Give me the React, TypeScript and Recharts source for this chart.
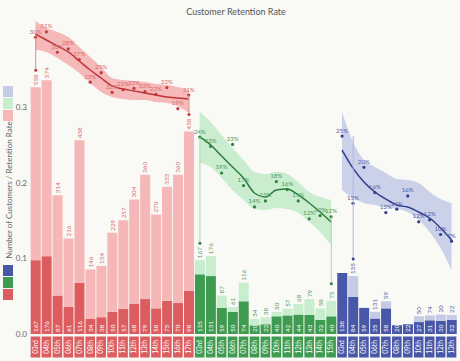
import React from 'react';
import { ComposedChart, Bar, Line, Area, XAxis, YAxis, LabelList, Cell } from 'recharts';

const dayLabels = ['03rd', '04th', '05th', '06th', '07th', '08th', '09th', '10th', '11th', '12th', '13th', '14th', '15th', '16th', '17th'];

// first cohort (red)
const redTotal = [558, 574, 314, 216, 438, 146, 154, 229, 257, 304, 360, 270, 333, 360, 458];
const redRetained = [167, 176, 87, 61, 116, 34, 38, 50, 57, 68, 79, 58, 75, 70, 98];
const redRate = [0.299, 0.307, 0.277, 0.282, 0.266, 0.233, 0.247, 0.218, 0.222, 0.224, 0.219, 0.215, 0.225, 0.194, 0.214];
const redTrend = [0.3038, 0.295, 0.2862, 0.2774, 0.2641, 0.2509, 0.2391, 0.2274, 0.2229, 0.22, 0.2171, 0.2141, 0.2112, 0.2097, 0.2082];
const redBandHi = [0.3229, 0.3126, 0.3068, 0.2994, 0.2847, 0.27, 0.2553, 0.2391, 0.2362, 0.2347, 0.2332, 0.2303, 0.2288, 0.2259, 0.2215];
const redBandLo = [0.2803, 0.2774, 0.2685, 0.2582, 0.2465, 0.2318, 0.2185, 0.2112, 0.2082, 0.2068, 0.2068, 0.2038, 0.2024, 0.1979, 0.1876];

// second cohort (green)
const greenTotal = [167, 176, 87, 61, 116, 34, 38, 50, 57, 68, 79, 58, 75];
const greenRetained = [135, 131, 59, 50, 74, 20, 22, 40, 42, 44, 43, 32, 40];
const greenRate = [0.242, 0.228, 0.188, 0.231, 0.169, 0.137, 0.146, 0.175, 0.163, 0.146, 0.119, 0.124, 0.122];
const greenTrend = [0.2421, 0.2301, 0.2135, 0.197, 0.1805, 0.1579, 0.1519, 0.1624, 0.1639, 0.1549, 0.1429, 0.1293, 0.1143];
const greenBandHi = [0.2797, 0.2647, 0.2451, 0.2256, 0.2075, 0.1895, 0.1865, 0.1895, 0.1865, 0.1744, 0.1594, 0.1519, 0.1474];
const greenBandLo = [0.203, 0.197, 0.1805, 0.1624, 0.1474, 0.1338, 0.1323, 0.1353, 0.1338, 0.1278, 0.1143, 0.0992, 0.0797];

// third cohort (blue)
const blueTotal = [135, 131, 59, 50, 74, 20, 22, 40, 42, 44, 43];
const blueRetained = [138, 84, 59, 35, 58, 20, 22, 27, 31, 30, 32];
const blueRate = [0.247, 0.146, 0.2, 0.162, 0.132, 0.137, 0.157, 0.118, 0.121, 0.099, 0.089];
const blueTrend = [0.226, 0.1989, 0.1779, 0.1629, 0.1523, 0.1433, 0.1403, 0.1328, 0.1238, 0.1087, 0.0907];
const blueBandHi = [0.2832, 0.238, 0.211, 0.2005, 0.1914, 0.1824, 0.1809, 0.1764, 0.1629, 0.1523, 0.1463];
const blueBandLo = [0.1659, 0.1538, 0.1463, 0.1433, 0.1403, 0.1373, 0.1328, 0.1208, 0.1027, 0.0786, 0.0456];

const leftTicks = [0, 0.1, 0.2, 0.3];

const PALETTE = [
  { dark: '#dc5d5f', light: '#f5b7b7', band: '#f1a3a3', line: '#bf3438', text: '#dc6a6a', link: '#e58a8a', point: '#c2393c' },
  { dark: '#3e9b50', light: '#c8eecd', band: '#b9e8c1', line: '#2c7d3c', text: '#4f9a5c', link: '#a6dcaf', point: '#2f7f3e' },
  { dark: '#4957a8', light: '#c5cae5', band: '#bcc3e6', line: '#2e3c8e', text: '#5460a8', link: '#b0b8df', point: '#333f8e' },
];

const W = 460;
const H = 361;
const MARGIN = { top: 20, right: 3, bottom: 0, left: 0 };
const X_AXIS_H = 27;
const PLOT_TOP = MARGIN.top;
const PLOT_H = H - MARGIN.top - MARGIN.bottom - X_AXIS_H;
const COUNT_MAX = 710;
const LEFT_MAX = 0.4159;
const RATE_DOMAINS: [number, number][] = [
  [-0.1374, 0.3244],
  [-0.0541, 0.418],
  [-0.0506, 0.4215],
];

const cohorts = [
  { total: redTotal, retained: redRetained, rate: redRate, trend: redTrend, lo: redBandLo, hi: redBandHi },
  { total: greenTotal, retained: greenRetained, rate: greenRate, trend: greenTrend, lo: greenBandLo, hi: greenBandHi },
  { total: blueTotal, retained: blueRetained, rate: blueRate, trend: blueTrend, lo: blueBandLo, hi: blueBandHi },
];

const rows = cohorts.flatMap((co, c) =>
  co.total.map((t, i) => {
    const r: any = {
      key: `${c}-${dayLabels[i]}`,
      day: dayLabels[i],
      c,
      i,
      last: i === co.total.length - 1,
      total: t,
      retained: co.retained[i],
      rest: Math.max(t - co.retained[i], 0),
    };
    r[`rate${c}`] = co.rate[i];
    r[`trend${c}`] = co.trend[i];
    r[`band${c}`] = [co.lo[i], co.hi[i]];
    return r;
  })
);

const rateToPx = (c: number, v: number) => {
  const [lo, hi] = RATE_DOMAINS[c];
  return PLOT_TOP + (PLOT_H * (hi - v)) / (hi - lo);
};

const TopLabel = (p: any) => {
  const row = rows[p.index];
  if (!row) return null;
  const pal = PALETTE[row.c];
  const cx = Number(p.x) + Number(p.width) / 2;
  const top = Number(p.y);
  const edge = row.i === 0 || row.last;
  const dotY = top - 17;
  return (
    <g>
      {edge && (
        <>
          <line x1={cx} x2={cx} y1={rateToPx(row.c, row[`rate${row.c}`])} y2={dotY} stroke={pal.link} strokeWidth={1} />
          <circle cx={cx} cy={dotY} r={1.5} fill={pal.point} />
        </>
      )}
      <text transform={`translate(${cx},${top - 2}) rotate(-90)`} dy="0.35em" fontSize={6.3} fill={pal.text}>
        {row.total}
      </text>
    </g>
  );
};

const DarkLabel = (p: any) => {
  const row = rows[p.index];
  if (!row) return null;
  const cx = Number(p.x) + Number(p.width) / 2;
  const bottom = Number(p.y) + Number(p.height);
  return (
    <text transform={`translate(${cx},${bottom - 2}) rotate(-90)`} dy="0.35em" fontSize={6.3} fill="#fff">
      {row.retained}
    </text>
  );
};

const rateLabel = (c: number) => (p: any) => {
  if (p.value == null || p.x == null) return null;
  return (
    <text x={p.x} y={Number(p.y) - 3.5} textAnchor="middle" fontSize={6.2} fill={PALETTE[c].text}>
      {Math.round(Number(p.value) * 100)}%
    </text>
  );
};

const XTick = (p: any) => {
  const idx = p.index ?? p.payload?.index;
  const row = rows[idx];
  if (!row) return null;
  const pal = PALETTE[row.c];
  return (
    <g>
      <rect x={p.x - 4.8} y={p.y + 2.5} width={9.6} height={21} fill={pal.dark} />
      <text transform={`translate(${p.x},${p.y + 13}) rotate(-90)`} textAnchor="middle" dy="0.35em" fontSize={6.6} fill="#fff">
        {row.day}
      </text>
    </g>
  );
};

export default function App() {
  return (
    <div style={{ position: 'relative', width: W, height: H, background: '#f9f9f6', fontFamily: 'Lato, "Open Sans", sans-serif' }}>
      <style>{'body{margin:0}'}</style>
      <ComposedChart width={W} height={H} data={rows} margin={MARGIN} barCategoryGap={0.7}>
        <XAxis dataKey="key" interval={0} height={X_AXIS_H} axisLine={false} tickLine={false} tickSize={0} tickMargin={0} tick={(p: any) => <XTick {...p} />} />
        <YAxis
          yAxisId="left"
          type="number"
          domain={[0, LEFT_MAX]}
          ticks={leftTicks}
          allowDataOverflow
          width={30}
          axisLine={false}
          tickLine={false}
          tickSize={0}
          tickMargin={3}
          tickFormatter={(v: number) => v.toFixed(1)}
          tick={{ fontSize: 8, fill: '#666' }}
        />
        <YAxis yAxisId="count" type="number" hide width={0} domain={[0, COUNT_MAX]} allowDataOverflow />
        {RATE_DOMAINS.map((d, c) => (
          <YAxis key={`ax${c}`} yAxisId={`rate${c}`} type="number" hide width={0} domain={d} allowDataOverflow />
        ))}

        <Bar dataKey="retained" stackId="s" yAxisId="count" isAnimationActive={false}>
          {rows.map((r) => (
            <Cell key={`d${r.key}`} fill={PALETTE[r.c].dark} />
          ))}
          <LabelList dataKey="retained" content={(p: any) => <DarkLabel {...p} />} />
        </Bar>
        <Bar dataKey="rest" stackId="s" yAxisId="count" isAnimationActive={false}>
          {rows.map((r) => (
            <Cell key={`l${r.key}`} fill={PALETTE[r.c].light} />
          ))}
          <LabelList dataKey="rest" content={(p: any) => <TopLabel {...p} />} />
        </Bar>

        {PALETTE.map((pal, c) => (
          <Area
            key={`band${c}`}
            yAxisId={`rate${c}`}
            dataKey={`band${c}`}
            type="monotone"
            stroke="none"
            fill={pal.band}
            fillOpacity={0.75}
            isAnimationActive={false}
            activeDot={false}
          />
        ))}
        {PALETTE.map((pal, c) => (
          <Line
            key={`trend${c}`}
            yAxisId={`rate${c}`}
            dataKey={`trend${c}`}
            type="monotone"
            stroke={pal.line}
            strokeWidth={1.5}
            dot={false}
            activeDot={false}
            isAnimationActive={false}
          />
        ))}
        {PALETTE.map((pal, c) => (
          <Line
            key={`rate${c}`}
            yAxisId={`rate${c}`}
            dataKey={`rate${c}`}
            stroke="none"
            dot={{ r: 1.6, fill: pal.point, stroke: pal.point, strokeWidth: 0 }}
            activeDot={false}
            isAnimationActive={false}
          >
            <LabelList dataKey={`rate${c}`} content={rateLabel(c)} />
          </Line>
        ))}
      </ComposedChart>

      <svg width={W} height={H} style={{ position: 'absolute', left: 0, top: 0, pointerEvents: 'none' }}>
        <text x={236} y={15} textAnchor="middle" fontSize={9} fill="#555">
          Customer Retention Rate
        </text>
        {[2, 1, 0].map((c, k) => (
          <rect key={`lg${c}`} x={3} y={86 + k * 12} width={10} height={11} fill={PALETTE[c].light} />
        ))}
        {[2, 1, 0].map((c, k) => (
          <rect key={`dg${c}`} x={3} y={265 + k * 12} width={10} height={11} fill={PALETTE[c].dark} />
        ))}
        <text transform="translate(9,190) rotate(-90)" textAnchor="middle" dy="0.35em" fontSize={8} fill="#666">
          Number of Customers / Retention Rate
        </text>
      </svg>
    </div>
  );
}
